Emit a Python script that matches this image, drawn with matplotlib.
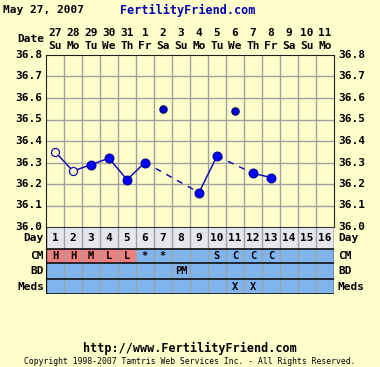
import numpy as np
import matplotlib.pyplot as plt

# chart data
days = list(range(1, 17))
dates = ["27", "28", "29", "30", "31", "1", "2", "3", "4", "5", "6", "7", "8", "9", "10", "11"]
weekdays = ["Su", "Mo", "Tu", "We", "Th", "Fr", "Sa", "Su", "Mo", "Tu", "We", "Th", "Fr", "Sa", "Su", "Mo"]
temps = [36.35, 36.26, 36.29, 36.32, 36.22, 36.30, 36.55, None, 36.16, 36.33, 36.54, 36.25, 36.23]
open_days = [1, 2]          # open circles
discarded = [7, 11]         # points not joined by the line
dashed_pairs = [(6, 9), (10, 12)]
cm = ["H", "H", "M", "L", "L", "*", "*", "", "", "S", "C", "C", "C", "", "", ""]
bd = ["", "", "", "", "", "", "", "PM", "", "", "", "", "", "", "", ""]
meds = ["", "", "", "", "", "", "", "", "", "", "X", "X", "", "", "", ""]
yticks = [36.0, 36.1, 36.2, 36.3, 36.4, 36.5, 36.6, 36.7, 36.8]

BG = "#FFFFCC"
BLUE = "#80B4EC"
PINK = "#EC8080"
GRID = "#A0A0A0"
LINE = "#1010B0"
MONO = "DejaVu Sans Mono"

W, H = 380, 367
fig = plt.figure(figsize=(W / 100, H / 100), dpi=100, facecolor=BG)

def px_axes(x0, y0, x1, y1):
    return fig.add_axes([x0 / W, 1 - y1 / H, (x1 - x0) / W, (y1 - y0) / H])

# --- temperature chart ---
ax = px_axes(46, 55, 334, 227)
ax.set_facecolor(BG)
ax.set_xlim(0.5, 16.5)
ax.set_ylim(36.0, 36.8)
for x in np.arange(1.5, 16.5, 1):
    ax.axvline(x, color=GRID, lw=1, zorder=1)
for y in yticks[1:-1]:
    ax.axhline(y, color=GRID, lw=1, zorder=1)
for s in ax.spines.values():
    s.set_color("#202020")
ax.set_xticks([])
ax.set_yticks([])
for y in yticks:
    ax.text(-0.012, y, f"{y:.1f}", ha="right", va="center", fontsize=8,
            family=MONO, weight="bold", transform=ax.get_yaxis_transform())
    ax.text(1.015, y, f"{y:.1f}", ha="left", va="center", fontsize=8,
            family=MONO, weight="bold", transform=ax.get_yaxis_transform())

# connected points
conn = [(d, t) for d, t in zip(days, temps) if t is not None and d not in discarded]
for (d0, t0), (d1, t1) in zip(conn[:-1], conn[1:]):
    ls = (0, (4, 4)) if (d0, d1) in dashed_pairs else "-"
    ax.plot([d0, d1], [t0, t1], color=LINE, lw=1.1, ls=ls, zorder=2)
for d, t in conn:
    if d in open_days:
        ax.plot(d, t, "o", ms=5.8, mfc=BG, mec=LINE, mew=0.9, zorder=3)
    else:
        ax.plot(d, t, "o", ms=6.3, mfc="#0000FF", mec="#0000A0", mew=0.9, zorder=3)
for d in discarded:
    ax.plot(d, temps[d - 1], "o", ms=5.2, mfc="#0000E0", mec="#000060", mew=0.9, zorder=3)

# --- header ---
fig.text(3 / W, 1 - 10 / H, "May 27, 2007", fontsize=8, family=MONO, weight="bold",
         va="center", ha="left")
fig.text(188 / W, 1 - 10 / H, "FertilityFriend.com", fontsize=8.5, family=MONO,
         weight="bold", color="#0000B0", va="center", ha="center")
fig.text(44 / W, 1 - 39 / H, "Date", fontsize=8, family=MONO, weight="bold",
         va="center", ha="right")
for d, dt, wd in zip(days, dates, weekdays):
    x = (46 + (d - 0.5) * 18) / W
    fig.text(x, 1 - 33 / H, dt, fontsize=8, family=MONO, weight="bold",
             va="center", ha="center")
    fig.text(x, 1 - 46 / H, wd, fontsize=8, family=MONO, weight="bold",
             va="center", ha="center")

# --- table rows ---
tb = px_axes(46, 227, 334, 294)
tb.set_xlim(0.5, 16.5)
tb.set_ylim(67, 0)
tb.axis("off")
rows = [(0, 22), (22, 36), (36, 52), (52, 67)]
tb.add_patch(plt.Rectangle((0.5, 0), 16, 22, fc="#E6E6EE", ec="none"))
for i, d in enumerate(days):
    for vals, (y0, y1) in zip([cm, bd, meds], rows[1:]):
        c = PINK if (vals is cm and vals[i] in "HML" and vals[i]) else BLUE
        tb.add_patch(plt.Rectangle((d - 0.5, y0), 1, y1 - y0, fc=c, ec="none"))
        if vals[i]:
            tb.text(d, (y0 + y1) / 2, vals[i], ha="center", va="center", fontsize=7.5,
                    family=MONO, weight="bold")
    tb.text(d, 11, str(d), ha="center", va="center", fontsize=8, family=MONO, weight="bold")
for x in np.arange(1.5, 16.5, 1):
    tb.plot([x, x], [0, 67], color=GRID, lw=1)
for y in [0, 22, 36, 52, 67]:
    tb.plot([0.5, 16.5], [y, y], color="#101010", lw=1.2)
tb.plot([0.5, 0.5], [0, 67], color="#101010", lw=1)
tb.plot([16.5, 16.5], [0, 67], color="#101010", lw=1)

labels = ["Day", "CM", "BD", "Meds"]
for lab, (y0, y1) in zip(labels, rows):
    yy = (227 + (y0 + y1) / 2)
    fig.text(44 / W, 1 - yy / H, lab, fontsize=8, family=MONO, weight="bold",
             va="center", ha="right")
    fig.text(338 / W, 1 - yy / H, lab, fontsize=8, family=MONO, weight="bold",
             va="center", ha="left")

# --- footer ---
fig.text(190 / W, 1 - 348 / H, "http://www.FertilityFriend.com", fontsize=8.5,
         family=MONO, weight="bold", va="center", ha="center")
fig.text(190 / W, 1 - 362 / H,
         "Copyright 1998-2007 Tamtris Web Services Inc. - All Rights Reserved.",
         fontsize=5.8, family=MONO, va="center", ha="center")

fig.savefig("out.png", dpi=100, facecolor=BG)
